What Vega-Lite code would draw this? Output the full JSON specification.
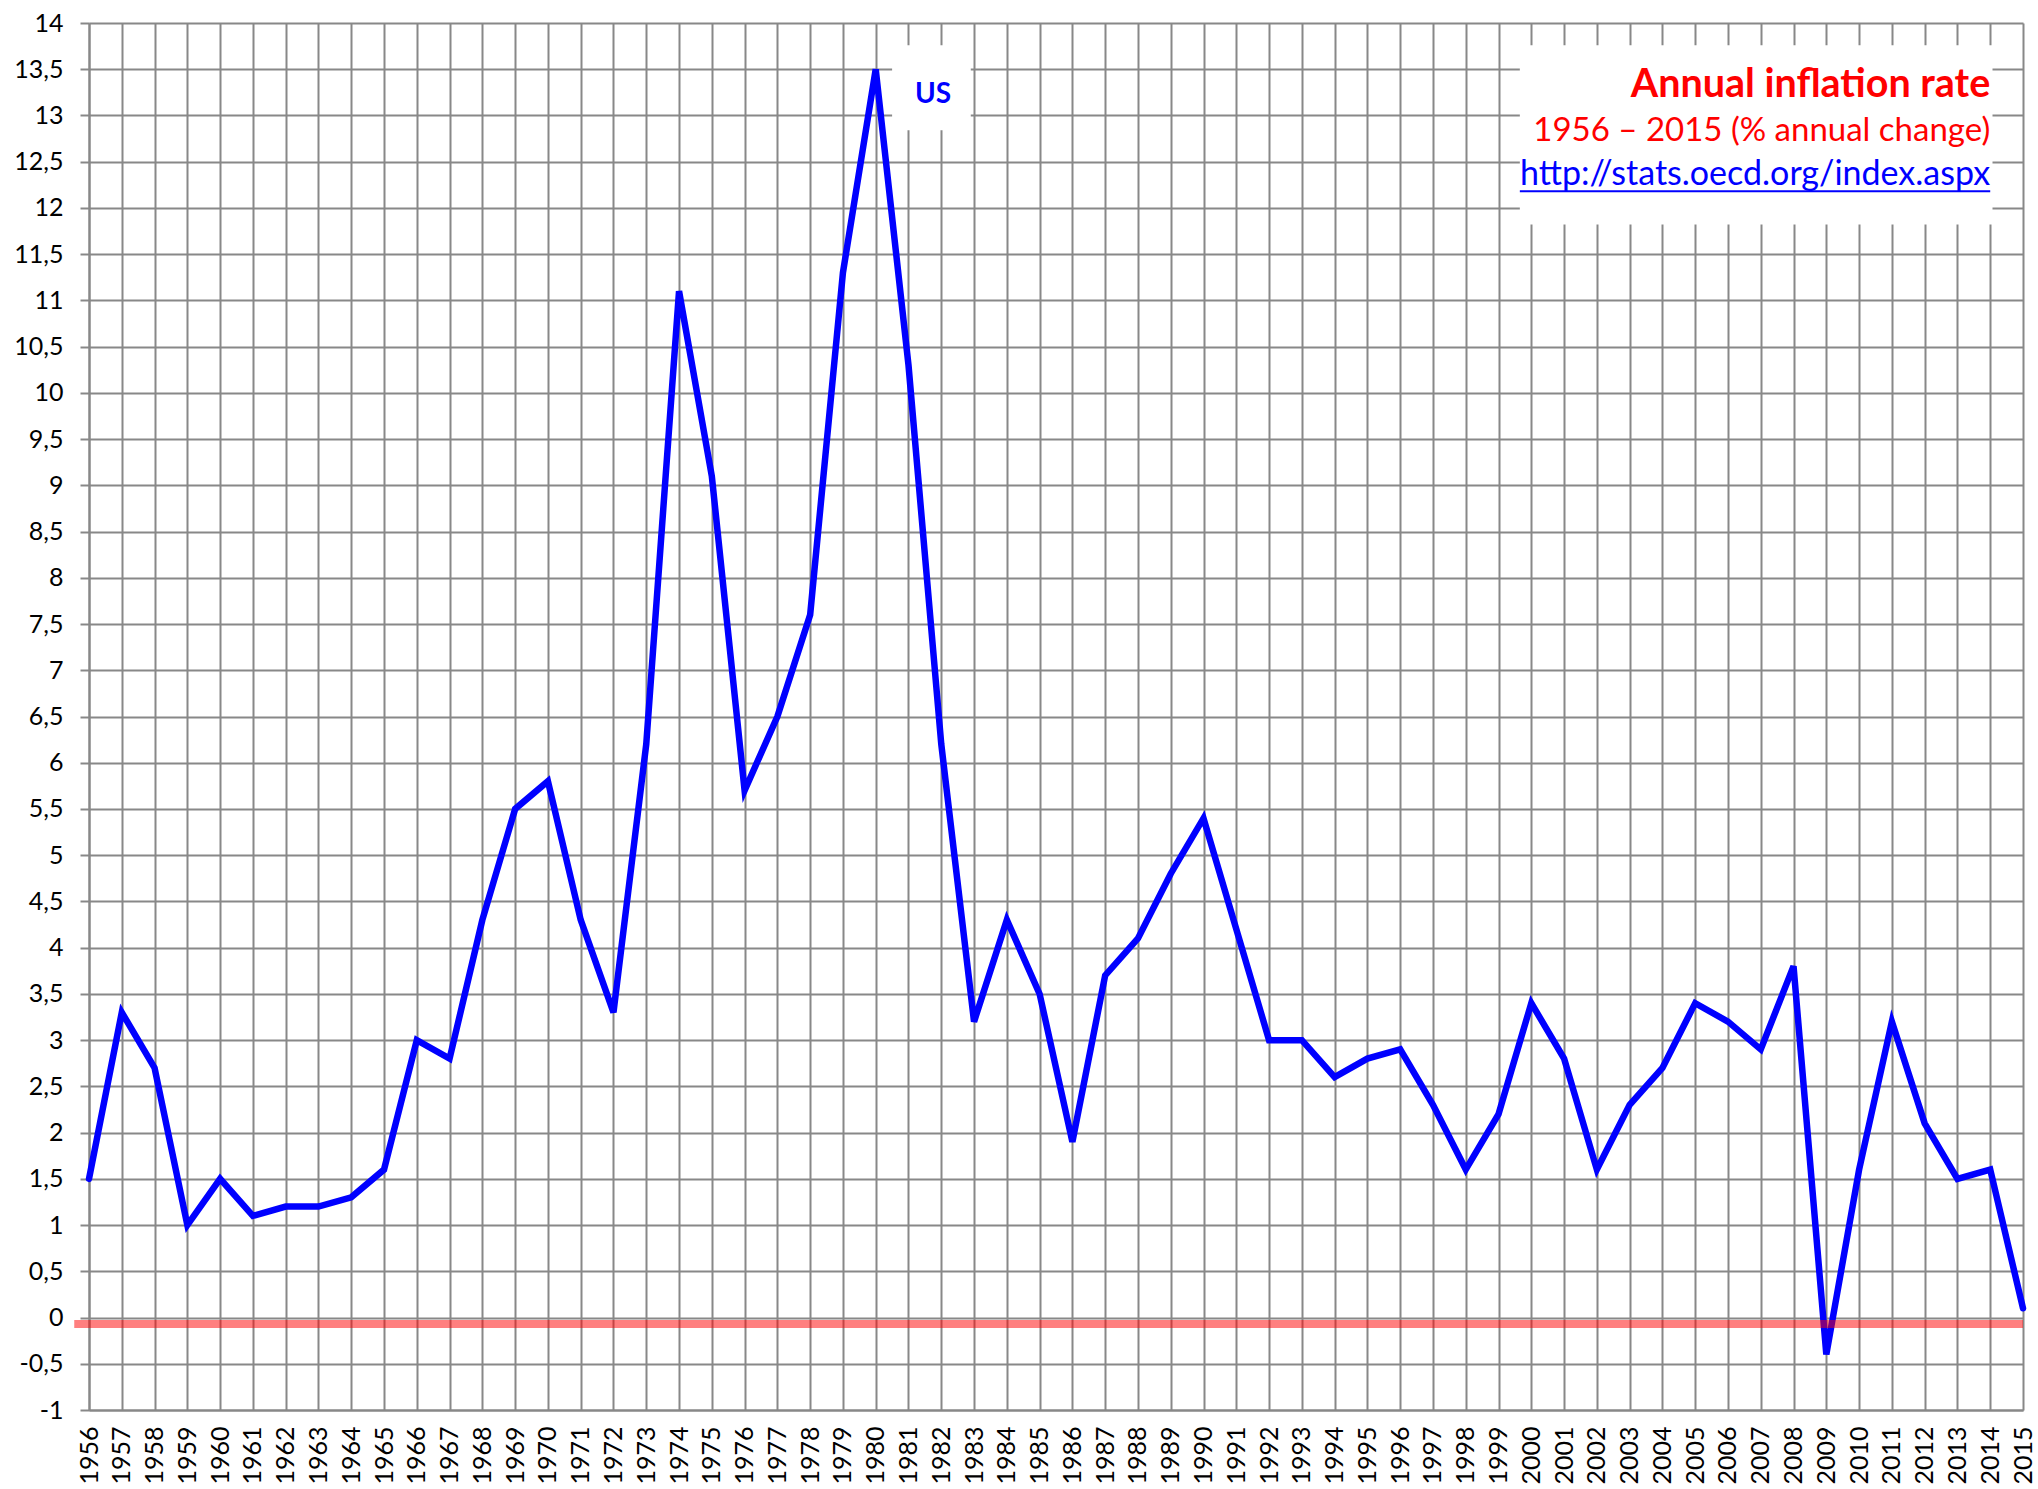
{
  "$schema": "https://vega.github.io/schema/vega-lite/v6.json",
  "width": 1934,
  "height": 1387,
  "autosize": {"type": "none"},
  "padding": {"left": 89, "top": 23, "right": 15, "bottom": 79},
  "background": "white",
  "config": {"view": {"stroke": null}, "font": "Lato"},
  "data": {"values": [
    {"year": 1956, "rate": 1.5}, {"year": 1957, "rate": 3.3}, {"year": 1958, "rate": 2.7}, {"year": 1959, "rate": 1.0},
    {"year": 1960, "rate": 1.5}, {"year": 1961, "rate": 1.1}, {"year": 1962, "rate": 1.2}, {"year": 1963, "rate": 1.2},
    {"year": 1964, "rate": 1.3}, {"year": 1965, "rate": 1.6}, {"year": 1966, "rate": 3.0}, {"year": 1967, "rate": 2.8},
    {"year": 1968, "rate": 4.3}, {"year": 1969, "rate": 5.5}, {"year": 1970, "rate": 5.8}, {"year": 1971, "rate": 4.3},
    {"year": 1972, "rate": 3.3}, {"year": 1973, "rate": 6.2}, {"year": 1974, "rate": 11.1}, {"year": 1975, "rate": 9.1},
    {"year": 1976, "rate": 5.7}, {"year": 1977, "rate": 6.5}, {"year": 1978, "rate": 7.6}, {"year": 1979, "rate": 11.3},
    {"year": 1980, "rate": 13.5}, {"year": 1981, "rate": 10.3}, {"year": 1982, "rate": 6.2}, {"year": 1983, "rate": 3.2},
    {"year": 1984, "rate": 4.3}, {"year": 1985, "rate": 3.5}, {"year": 1986, "rate": 1.9}, {"year": 1987, "rate": 3.7},
    {"year": 1988, "rate": 4.1}, {"year": 1989, "rate": 4.8}, {"year": 1990, "rate": 5.4}, {"year": 1991, "rate": 4.2},
    {"year": 1992, "rate": 3.0}, {"year": 1993, "rate": 3.0}, {"year": 1994, "rate": 2.6}, {"year": 1995, "rate": 2.8},
    {"year": 1996, "rate": 2.9}, {"year": 1997, "rate": 2.3}, {"year": 1998, "rate": 1.6}, {"year": 1999, "rate": 2.2},
    {"year": 2000, "rate": 3.4}, {"year": 2001, "rate": 2.8}, {"year": 2002, "rate": 1.6}, {"year": 2003, "rate": 2.3},
    {"year": 2004, "rate": 2.7}, {"year": 2005, "rate": 3.4}, {"year": 2006, "rate": 3.2}, {"year": 2007, "rate": 2.9},
    {"year": 2008, "rate": 3.8}, {"year": 2009, "rate": -0.4}, {"year": 2010, "rate": 1.6}, {"year": 2011, "rate": 3.2},
    {"year": 2012, "rate": 2.1}, {"year": 2013, "rate": 1.5}, {"year": 2014, "rate": 1.6}, {"year": 2015, "rate": 0.1}
  ]},
  "resolve": {"scale": {"x": "independent"}, "axis": {"x": "independent"}},
  "layer": [
    {
      "mark": {"type": "line", "color": "#0000ff", "strokeWidth": 6.5, "strokeCap": "round", "strokeJoin": "miter"},
      "encoding": {
        "x": {
          "field": "year", "type": "nominal",
          "scale": {"type": "point", "padding": 0},
          "axis": {
            "title": null,
            "labelAngle": -90,
            "labelAlign": "right",
            "labelBaseline": "middle",
            "labelFontSize": 25,
            "labelColor": "#000000",
            "labelPadding": 16,
            "labelOverlap": false,
            "labelFlush": false,
            "ticks": false,
            "grid": true,
            "gridColor": "#888888",
            "gridWidth": 2,
            "gridOpacity": 1,
            "domainColor": "#888888",
            "domainWidth": 2
          }
        },
        "y": {
          "field": "rate", "type": "quantitative",
          "scale": {"domain": [-1, 14], "nice": false, "zero": false},
          "axis": {
            "title": null,
            "values": [-1,-0.5,0,0.5,1,1.5,2,2.5,3,3.5,4,4.5,5,5.5,6,6.5,7,7.5,8,8.5,9,9.5,10,10.5,11,11.5,12,12.5,13,13.5,14],
            "labelExpr": "replace(replace(format(datum.value, '.1~f'), '.', ','), '\u2212', '-')",
            "labelFontSize": 25,
            "labelColor": "#000000",
            "labelPadding": 17,
            "labelOverlap": false,
            "labelFlush": false,
            "ticks": true,
            "tickSize": 9,
            "tickColor": "#888888",
            "tickWidth": 2,
            "grid": true,
            "gridColor": "#888888",
            "gridWidth": 2,
            "gridOpacity": 1,
            "domainColor": "#888888",
            "domainWidth": 2
          }
        }
      }
    },
    {
      "data": {"values": [{}]},
      "mark": {"type": "rect", "fill": "white"},
      "encoding": {
        "x": {"datum": 1999.65, "type": "quantitative", "scale": {"domain": [1956, 2015], "nice": false, "zero": false}, "axis": null},
        "x2": {"datum": 2014.07},
        "y": {"datum": 13.76, "type": "quantitative"},
        "y2": {"datum": 11.82}
      }
    },
    {
      "data": {"values": [{}]},
      "mark": {"type": "rect", "fill": "white"},
      "encoding": {
        "x": {"datum": 1980.5, "type": "quantitative", "scale": {"domain": [1956, 2015], "nice": false, "zero": false}, "axis": null},
        "x2": {"datum": 1982.9},
        "y": {"datum": 13.76, "type": "quantitative"},
        "y2": {"datum": 12.84}
      }
    },
    {
      "data": {"values": [{}]},
      "mark": {"type": "rule", "color": "#ff0000", "opacity": 0.5, "strokeWidth": 8, "clip": false},
      "encoding": {
        "x": {"datum": 1955.55, "type": "quantitative", "scale": {"domain": [1956, 2015], "nice": false, "zero": false}, "axis": null},
        "x2": {"datum": 2015},
        "y": {"datum": -0.07, "type": "quantitative"}
      }
    },
    {
      "data": {"values": [{}]},
      "mark": {"type": "text", "text": "US", "font": "Lato", "fontWeight": "bold", "fontSize": 28, "color": "#0000ff", "align": "center", "baseline": "middle"},
      "encoding": {
        "x": {"datum": 1981.75, "type": "quantitative", "scale": {"domain": [1956, 2015], "nice": false, "zero": false}, "axis": null},
        "y": {"datum": 13.22, "type": "quantitative"}
      }
    },
    {
      "data": {"values": [{}]},
      "mark": {"type": "text", "text": "Annual inflation rate", "font": "Lato", "fontWeight": "bold", "fontSize": 39.5, "color": "#ff0000", "align": "right", "baseline": "alphabetic"},
      "encoding": {
        "x": {"datum": 2014, "type": "quantitative", "scale": {"domain": [1956, 2015], "nice": false, "zero": false}, "axis": null},
        "y": {"datum": 13.2, "type": "quantitative"}
      }
    },
    {
      "data": {"values": [{}]},
      "mark": {"type": "text", "text": "1956 – 2015 (% annual change)", "font": "Lato", "fontSize": 33, "color": "#ff0000", "align": "right", "baseline": "alphabetic"},
      "encoding": {
        "x": {"datum": 2014, "type": "quantitative", "scale": {"domain": [1956, 2015], "nice": false, "zero": false}, "axis": null},
        "y": {"datum": 12.72, "type": "quantitative"}
      }
    },
    {
      "data": {"values": [{}]},
      "mark": {"type": "text", "text": "http://stats.oecd.org/index.aspx", "font": "Lato", "fontSize": 34, "color": "#0000ff", "align": "right", "baseline": "alphabetic"},
      "encoding": {
        "x": {"datum": 2014, "type": "quantitative", "scale": {"domain": [1956, 2015], "nice": false, "zero": false}, "axis": null},
        "y": {"datum": 12.25, "type": "quantitative"}
      }
    },
    {
      "data": {"values": [{}]},
      "mark": {"type": "rule", "color": "#0000ff", "strokeWidth": 2},
      "encoding": {
        "x": {"datum": 1999.65, "type": "quantitative", "scale": {"domain": [1956, 2015], "nice": false, "zero": false}, "axis": null},
        "x2": {"datum": 2014},
        "y": {"datum": 12.18, "type": "quantitative"}
      }
    }
  ]
}
